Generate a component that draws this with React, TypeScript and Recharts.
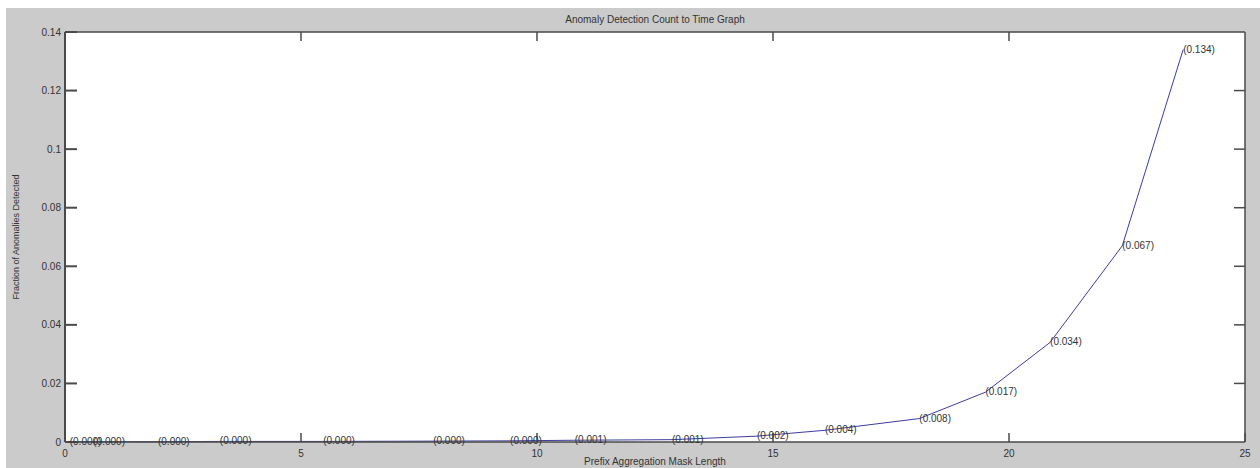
import { LineChart, Line, XAxis, YAxis, Label, LabelList, CartesianGrid } from "recharts"

const maskLength = [0.1, 0.6, 1.97, 3.28, 5.47, 7.8, 9.43, 10.8, 12.86, 14.66, 16.1, 18.1, 19.5, 20.87, 22.4, 23.69]
const fraction = [0.0001, 0.0001, 0.0001, 0.0002, 0.0002, 0.0003, 0.0004, 0.0006, 0.0008, 0.002, 0.004, 0.008, 0.017, 0.034, 0.067, 0.134]
const xTicks = [0, 5, 10, 15, 20, 25]
const xInnerTicks = [5, 10, 15, 20]
const yTicks = [0, 0.02, 0.04, 0.06, 0.08, 0.1, 0.12, 0.14]
const yInnerTicks = [0.02, 0.04, 0.06, 0.08, 0.1, 0.12]

const data = maskLength.map((x, i) => ({ x, y: fraction[i] }))

const font = "Arial, 'Liberation Sans', sans-serif"
const axisColor = "#4a4a4a"

const fmtY = (v: number) => String(Number(v.toFixed(2)))
const noLabel = () => ""

function PointLabel(props: any) {
  const { x, y, value } = props
  return (
    <text x={x} y={y} dy={3} textAnchor="start" fontSize={10} fontFamily={font} fill="#333">
      ({value.toFixed(3)})
    </text>
  )
}

export default function App() {
  return (
    <div style={{ position: "absolute", left: 6, top: 8, width: 1254, height: 460, background: "#cbcbcb" }}>
      <div
        style={{
          position: "absolute",
          top: 6,
          left: 59,
          width: 1180,
          textAlign: "center",
          fontFamily: font,
          fontSize: 10,
          color: "#333",
        }}
      >
        Anomaly Detection Count to Time Graph
      </div>
      <LineChart width={1254} height={460} data={data} margin={{ top: 22, right: 13, bottom: 0, left: 0 }}>
        <CartesianGrid horizontal={false} vertical={false} fill="#ffffff" />
        <XAxis
          xAxisId="top"
          dataKey="x"
          type="number"
          orientation="top"
          domain={[0, 25]}
          ticks={xInnerTicks}
          height={2}
          tickFormatter={noLabel}
          tickSize={-9}
          stroke={axisColor}
          strokeWidth={1.5}
        />
        <YAxis
          yAxisId="right"
          type="number"
          orientation="right"
          domain={[0, 0.14]}
          ticks={yInnerTicks}
          width={2}
          tickFormatter={noLabel}
          tickSize={-11}
          stroke={axisColor}
          strokeWidth={1.5}
        />
        <XAxis
          dataKey="x"
          type="number"
          domain={[0, 25]}
          ticks={xTicks}
          height={26}
          tickSize={-9}
          tickMargin={17}
          stroke={axisColor}
          strokeWidth={1.5}
          tick={{ fill: "#333", fontSize: 10, fontFamily: font }}
        >
          <Label
            value="Prefix Aggregation Mask Length"
            position="insideBottom"
            offset={3}
            style={{ fill: "#333", fontSize: 10, fontFamily: font }}
          />
        </XAxis>
        <YAxis
          type="number"
          domain={[0, 0.14]}
          ticks={yTicks}
          width={59}
          tickSize={-12}
          tickMargin={16}
          tickFormatter={fmtY}
          stroke={axisColor}
          strokeWidth={2}
          tick={{ fill: "#333", fontSize: 10, fontFamily: font }}
        >
          <Label
            value="Fraction of Anomalies Detected"
            angle={-90}
            position="insideLeft"
            offset={10}
            style={{ textAnchor: "middle", fill: "#333", fontSize: 9, fontFamily: font }}
          />
        </YAxis>
        <Line
          xAxisId="top"
          yAxisId="right"
          dataKey="y"
          type="linear"
          stroke="none"
          dot={false}
          activeDot={false}
          legendType="none"
          isAnimationActive={false}
        />
        <Line
          dataKey="y"
          type="linear"
          stroke="#3c3ca0"
          strokeWidth={1}
          dot={false}
          isAnimationActive={false}
        >
          <LabelList dataKey="y" content={<PointLabel />} />
        </Line>
      </LineChart>
    </div>
  )
}
